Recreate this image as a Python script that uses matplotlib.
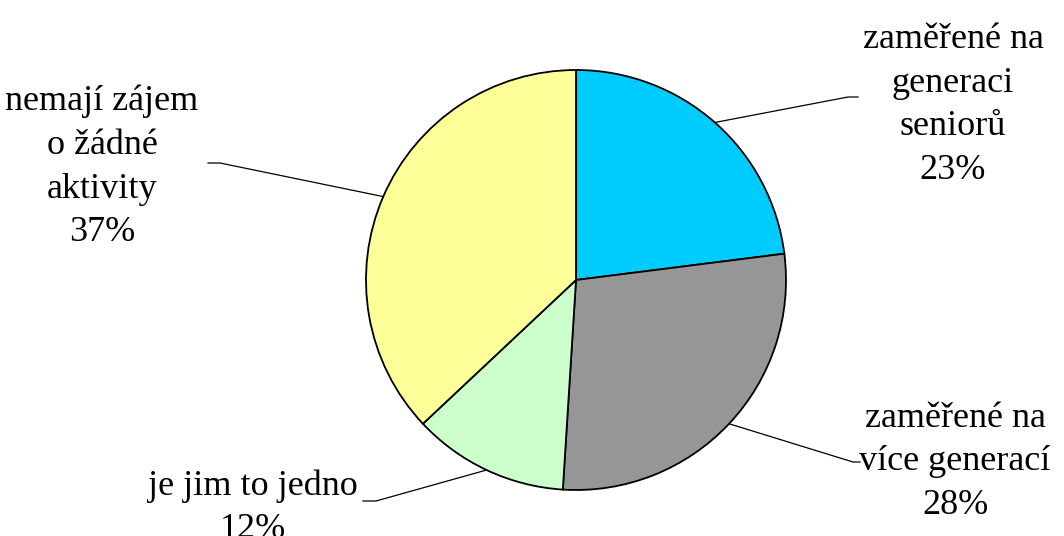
import numpy as np
import matplotlib.pyplot as plt

# data
labels = ['zaměřené na\ngeneraci\nseniorů', 'zaměřené na\nvíce generací', 'je jim to jedno', 'nemají zájem\no žádné\naktivity']
values = [23, 28, 12, 37]
colors = ['#00CCFF', '#969696', '#CCFFCC', '#FFFF99']

# label block centres and leader elbows (pixel layout, y from top)
text_pos = [(953, 105), (955, 462), (253, 508), (102, 167)]
elbow = [[(848, 97), (858, 97)], [(853, 462), (860, 462)],
         [(376, 501), (363, 501)], [(220, 163), (208, 163)]]

W, H = 1064, 536
cx, cy, r = 576, H - 280, 210

fig = plt.figure(figsize=(W / 100, H / 100), dpi=100)
ax = fig.add_axes([0, 0, 1, 1])

wedges, _ = ax.pie(values, colors=colors, startangle=90, counterclock=False,
                   radius=r, center=(cx, cy), frame=True,
                   wedgeprops=dict(edgecolor='black', linewidth=1.3))
ax.set_xlim(0, W)
ax.set_ylim(0, H)
ax.set_aspect('equal')
ax.axis('off')

for w, lab, v, tp, el in zip(wedges, labels, values, text_pos, elbow):
    mid = np.deg2rad((w.theta1 + w.theta2) / 2)
    x0 = cx + r * np.cos(mid)
    y0 = cy + r * np.sin(mid)
    xs = [x0] + [p[0] for p in el]
    ys = [y0] + [H - p[1] for p in el]
    ax.plot(xs, ys, color='black', linewidth=0.9)
    ax.text(tp[0], H - tp[1], f'{lab}\n{v}%', ha='center', va='center',
            fontsize=26, family='Liberation Serif', linespacing=1.42)

fig.savefig('out.png', dpi=100)
